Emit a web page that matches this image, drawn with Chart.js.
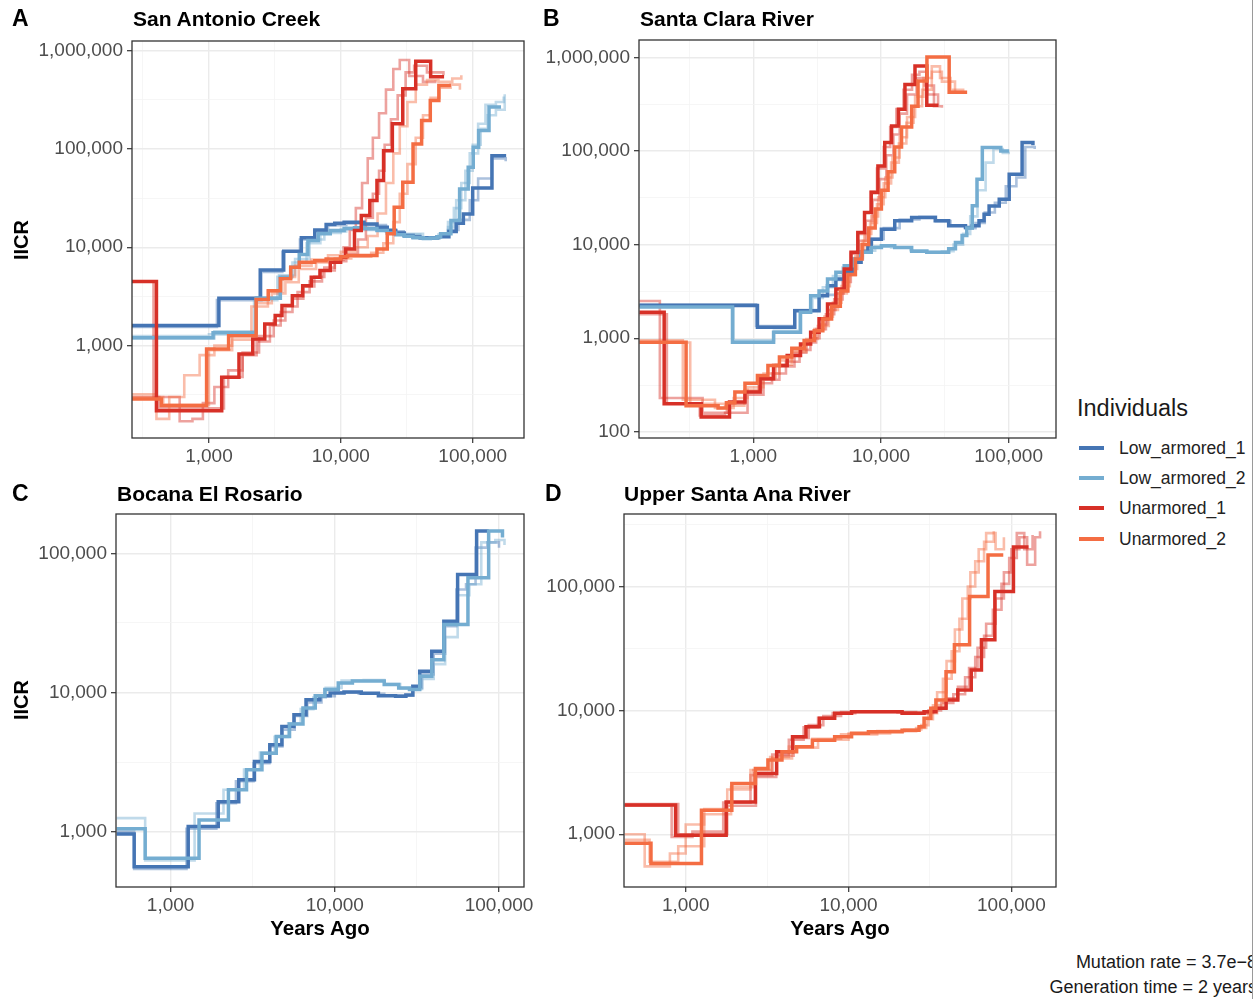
<!DOCTYPE html>
<html><head><meta charset="utf-8">
<script src="https://cdn.jsdelivr.net/npm/chart.js@4.4.1/dist/chart.umd.min.js"></script>
<style>
body{margin:0;background:#fff;width:1260px;height:999px;overflow:hidden;position:relative;font-family:"Liberation Sans",Arial,sans-serif;}
canvas{position:absolute;}
.t{position:absolute;white-space:nowrap;line-height:1;color:#000;}
.b{font-weight:bold;}
.rot{transform:translate(-50%,-50%) rotate(-90deg);}
.ctr{transform:translate(-50%,-50%);}
.key{position:absolute;height:4px;width:25px;left:1079px;}
.lab{position:absolute;left:1119px;font-size:17.5px;line-height:1;color:#222;white-space:nowrap;}
</style></head><body>
<canvas id="cA" width="540" height="480" style="left:0px;top:0px"></canvas>
<canvas id="cB" width="540" height="480" style="left:530px;top:0px"></canvas>
<canvas id="cC" width="540" height="460" style="left:0px;top:470px"></canvas>
<canvas id="cD" width="540" height="460" style="left:530px;top:470px"></canvas>

<div class="t b" style="left:12px;top:7px;font-size:23px">A</div>
<div class="t b" style="left:133px;top:8px;font-size:21px">San Antonio Creek</div>
<div class="t b" style="left:543px;top:7px;font-size:23px">B</div>
<div class="t b" style="left:640px;top:8px;font-size:21px">Santa Clara River</div>
<div class="t b" style="left:12px;top:482px;font-size:23px">C</div>
<div class="t b" style="left:117px;top:483px;font-size:21px">Bocana El Rosario</div>
<div class="t b" style="left:545px;top:482px;font-size:23px">D</div>
<div class="t b" style="left:624px;top:483px;font-size:21px">Upper Santa Ana River</div>
<div class="t b rot" style="left:21px;top:240px;font-size:20px">IICR</div>
<div class="t b rot" style="left:21px;top:700px;font-size:20px">IICR</div>
<div class="t b ctr" style="left:320px;top:928px;font-size:20.5px">Years Ago</div>
<div class="t b ctr" style="left:840px;top:928px;font-size:20.5px">Years Ago</div>

<div class="t" style="left:1077px;top:397px;font-size:23.5px;color:#1a1a1a">Individuals</div>
<div id="legend"></div>

<div style="position:absolute;left:900px;top:950px;width:352px;height:49px;overflow:hidden;">
  <div style="position:absolute;right:-5px;top:0;text-align:right;font-size:18px;line-height:25px;white-space:nowrap;color:#1a1a1a">Mutation rate = 3.7e&minus;8<br>Generation time = 2 years</div>
</div>
<div style="position:absolute;left:1252px;top:0;width:1px;height:999px;background:#9a9a9a"></div>

<script>
// ---------- categories / colours ----------
const INDIVIDUALS = ["Low_armored_1","Low_armored_2","Unarmored_1","Unarmored_2"];
const COLORS = ["#4575B4","#74ADD1","#D73027","#F46D43"];
const MAJOR_TICKS = [100, 1000, 10000, 100000, 1000000];
const MINOR_TICKS = [316.23, 3162.3, 31623, 316228];

// ---------- Panel A : San Antonio Creek  [years, IICR] ----------
const A_LA1 = [[261,1600],[1190,3030],[2450,5880],[3690,9100],[5020,12500],[6350,15000],[7740,17000],[9000,17500],[10600,18000],[12700,18000],[15000,17200],[18800,16000],[22500,14800],[26100,14000],[30300,13200],[35300,12700],[39800,12500],[44900,12500],[53800,12800],[66000,14500],[75000,17500],[85000,21800],[100000,40000],[140000,85000],[174000,82000]];
const A_LA2 = [[261,1200],[1075,1350],[2280,3030],[3480,4950],[4170,6270],[4840,8420],[5630,11700],[6740,13700],[8320,14800],[10600,15500],[12700,15800],[15000,15500],[18800,14800],[22500,14000],[26100,13400],[30300,12900],[35300,12500],[42300,12300],[47700,12400],[53800,12800],[57100,13700],[68400,18700],[79600,39200],[92500,65000],[101000,104000],[111000,154000],[133000,266000],[164000,266000]];
const A_U1 = [[261,4480],[400,218],[1250,476],[1690,822],[2150,1170],[2650,1660],[3180,2020],[3580,2550],[4290,3220],[5140,4070],[5970,4950],[6950,5790],[8320,7030],[9970,7910],[10900,9620],[12700,14800],[14300,21000],[16600,29800],[18800,47700],[21100,96000],[24600,180000],[29500,408000],[37000,780000],[48000,540000],[60700,540000]];
const A_U2 = [[261,287],[436,246],[960,925],[1410,1260],[2280,2940],[2820,3620],[3480,4770],[4170,6260],[4840,7030],[6350,7310],[7740,7600],[9970,8000],[11250,8220],[18800,9620],[22500,13700],[25400,25500],[29500,45800],[35300,112000],[41000,194000],[47700,310000],[55400,441000],[68400,441000]];
const A_LA1_b = [[261,1550],[1150,2900],[2500,5600],[3600,9000],[4900,12000],[6300,14500],[8000,16800],[11000,17500],[15000,16800],[22000,14500],[30000,13000],[40000,12300],[55000,12800],[65000,15000],[78000,19000],[95000,30000],[110000,50000],[140000,80000],[178000,75000]];
const A_LA2_b1 = [[261,1250],[1000,1300],[2200,2900],[3300,5000],[4300,7000],[5500,11000],[7000,14000],[10000,15300],[15000,15000],[25000,13500],[40000,12400],[55000,13500],[65000,18000],[75000,30000],[88000,60000],[100000,110000],[115000,160000],[130000,220000],[150000,250000],[175000,360000]];
const A_LA2_b2 = [[261,1180],[1100,1400],[2300,3100],[3400,5200],[4500,7600],[5800,12000],[7500,14500],[11000,15800],[16000,15200],[26000,13700],[42000,12200],[56000,13000],[65000,16000],[72000,25000],[82000,45000],[95000,90000],[110000,180000],[125000,280000],[150000,300000],[172000,340000]];
const A_U1_b1 = [[261,4480],[380,300],[600,170],[750,180],[900,260],[1100,380],[1400,560],[1800,800],[2300,1100],[2900,1600],[3500,2200],[4300,3000],[5200,4000],[6300,5000],[7500,6200],[9000,7500],[10500,10000],[11700,15000],[13000,25000],[14500,45000],[16000,80000],[17500,130000],[19500,230000],[22000,400000],[25000,650000],[28000,800000],[33000,550000],[42000,480000],[52000,500000]];
const A_U1_b2 = [[261,300],[420,230],[1300,480],[1800,850],[2400,1250],[3100,1800],[3800,2500],[4700,3500],[5800,4500],[7200,5800],[9000,7200],[11000,8500],[13500,12000],[15500,20000],[17500,35000],[19500,60000],[21500,110000],[24000,200000],[27000,350000],[31000,600000],[36000,700000],[45000,600000],[60000,560000]];
const A_U2_b1 = [[261,320],[400,180],[500,300],[650,500],[850,800],[1100,1000],[1500,1300],[2100,2500],[2800,3600],[3600,5000],[4500,6500],[6000,7500],[8000,8300],[10000,9000],[13000,10000],[16000,13000],[19000,22000],[22000,45000],[25000,90000],[28000,170000],[32000,300000],[37000,450000],[45000,500000],[55000,480000],[70000,520000],[82000,560000]];
const A_U2_b2 = [[261,300],[450,250],[1000,900],[1500,1150],[2300,2700],[3000,3400],[3800,4400],[4800,6000],[6500,7000],[9000,7700],[12000,8000],[17000,8800],[21000,11000],[25000,18000],[28000,35000],[32000,70000],[37000,130000],[42000,220000],[48000,330000],[56000,420000],[68000,450000],[80000,400000]];

// ---------- Panel B : Santa Clara River ----------
const B_LA1 = [[128,2230],[1076,1310],[2110,1970],[3270,2850],[3810,3640],[4430,4290],[5150,5050],[6000,6460],[6980,8260],[7890,9720],[8380,11400],[10070,14600],[12810,18000],[17380,19500],[20840,19500],[26600,18000],[33900,15900],[45900,15200],[51900,15900],[58600,18000],[64200,21100],[70300,25900],[84400,30500],[101000,56400],[127500,123000],[155000,115000]];
const B_LA2 = [[128,2150],[686,906],[1440,1160],[2340,1890],[2810,2850],[3270,3200],[3810,4290],[4430,5050],[5150,5950],[6000,7000],[6980,8260],[8380,9300],[10070,9720],[12810,9300],[17380,8500],[22840,8260],[28000,8260],[33900,9000],[38300,10500],[43200,12500],[47000,15000],[51900,26000],[56500,50000],[62200,109000],[86800,100000],[101000,100000]];
const B_U1 = [[128,1890],[200,200],[390,144],[650,208],[859,266],[1130,369],[1440,512],[1840,653],[2340,870],[2810,1160],[3270,1610],[3810,2320],[4430,3360],[5150,5480],[5820,8260],[6580,13500],[7430,22000],[8380,36000],[9460,69000],[10700,123000],[12100,185000],[13700,278000],[15400,513000],[18460,805000],[22840,307000],[28200,307000]];
const B_U2 = [[128,906],[297,190],[529,180],[615,205],[716,266],[859,330],[1076,400],[1300,512],[1600,630],[2000,780],[2500,944],[3000,1200],[3500,1600],[4100,2200],[4800,3200],[5500,4800],[6300,7000],[7100,10000],[8000,15000],[9000,24000],[10070,38000],[11360,60000],[12810,110000],[14480,180000],[17380,300000],[19500,560000],[22900,1010000],[34200,423000],[47300,423000]];
const B_LA1_b = [[128,2300],[1050,1350],[2100,2000],[3300,2900],[4400,4200],[5200,5300],[6200,7000],[7200,8700],[8500,11500],[10500,15000],[14000,18500],[20000,19800],[27000,17800],[35000,16000],[46000,15000],[55000,17000],[65000,22000],[78000,28000],[95000,42000],[115000,52000],[135000,110000],[160000,105000]];
const B_LA2_b = [[128,2250],[700,950],[1450,1200],[2300,1950],[2900,2700],[3500,3500],[4200,4600],[5000,5700],[6000,7200],[7200,8600],[9000,9500],[12000,9300],[17000,8700],[23000,8300],[30000,8500],[37000,10000],[44000,13000],[50000,20000],[57000,38000],[66000,75000],[76000,105000],[90000,95000],[100000,92000]];
const B_U1_b1 = [[128,2500],[185,230],[400,160],[620,200],[860,270],[1100,330],[1400,420],[1800,560],[2300,750],[2800,1000],[3300,1400],[3800,2000],[4400,3000],[5100,5000],[5800,8000],[6600,13000],[7400,22000],[8300,37000],[9300,65000],[10500,110000],[11800,180000],[13200,280000],[15000,450000],[17500,650000],[20000,700000],[23000,400000],[28000,310000]];
const B_U1_b2 = [[128,1800],[210,200],[380,150],[600,160],[900,250],[1200,360],[1600,500],[2100,700],[2600,900],[3100,1250],[3700,1800],[4300,2600],[5000,4000],[5800,6500],[6700,11000],[7600,18000],[8600,30000],[9700,50000],[11000,90000],[12500,150000],[14000,250000],[16000,400000],[19000,600000],[22000,500000],[26000,300000],[30000,290000]];
const B_U2_b1 = [[128,950],[280,220],[500,180],[700,230],[900,300],[1200,420],[1600,580],[2000,750],[2500,950],[3000,1250],[3600,1700],[4200,2400],[4900,3600],[5700,5500],[6500,8500],[7400,13000],[8400,20000],[9500,32000],[10800,52000],[12300,85000],[14000,140000],[16000,230000],[18500,380000],[21500,600000],[25000,800000],[29000,600000],[35000,450000],[44000,420000]];
const B_U2_b2 = [[128,900],[320,200],[600,190],[850,280],[1150,380],[1500,520],[2000,720],[2600,980],[3200,1350],[3900,2000],[4600,3000],[5400,4700],[6300,7500],[7200,11000],[8200,17000],[9300,27000],[10500,45000],[12000,75000],[13800,120000],[15800,200000],[18000,300000],[21000,450000],[25000,700000],[30000,550000],[38000,430000]];

// ---------- Panel C : Bocana El Rosario ----------
const C_LA1 = [[469,961],[600,560],[1280,1090],[1950,1640],[2600,2360],[3240,3190],[4020,4210],[4760,5700],[5640,6920],[6680,8870],[8110,9480],[9370,9910],[11380,10100],[14490,9900],[18430,9500],[23450,9400],[27100,9600],[29860,11100],[32900,14200],[38960,19800],[46150,32600],[55980,70600],[73070,145000],[86500,145000]];
const C_LA2 = [[469,1050],[700,643],[1490,1210],[2250,2000],[2900,2780],[3600,3660],[4400,4830],[5300,5950],[6400,7730],[7600,9480],[8700,10500],[10500,11700],[12800,12100],[16000,12100],[20000,11400],[24500,10800],[28500,10500],[32900,13100],[38960,17200],[46150,30800],[64700,66800],[86500,145000],[105000,130000]];
const C_LA1_b = [[469,1000],[600,540],[1250,1050],[1900,1600],[2500,2300],[3200,3100],[4000,4100],[4800,5400],[5700,6800],[6800,8500],[8300,9400],[10000,10000],[14000,9800],[20000,9500],[26000,9500],[30000,10800],[34000,13500],[40000,19000],[47000,30000],[55000,55000],[63000,60000],[72000,110000],[85000,120000],[100000,110000]];
const C_LA2_b = [[469,1250],[700,620],[1400,1350],[2100,2000],[2800,2800],[3500,3700],[4300,4800],[5200,6000],[6200,7600],[7400,9200],[8800,10800],[11000,12200],[15000,12300],[20000,11500],[25000,10700],[30000,10600],[34000,12500],[40000,16000],[47000,25000],[56000,50000],[66000,60000],[78000,120000],[95000,125000],[108000,115000]];

// ---------- Panel D : Upper Santa Ana River ----------
const D_U1 = [[422,1720],[867,981],[1772,1820],[2680,3100],[3620,4630],[4530,6120],[5480,7370],[6630,8620],[8220,9460],[10440,9750],[13250,9750],[21330,9500],[27100,9460],[29100,9750],[34400,10400],[39700,12100],[46900,14600],[56700,21200],[65500,37100],[79200,91200],[103000,208000],[127500,208000]];
const D_U2 = [[422,847],[612,580],[1250,1560],[1920,2570],[2680,3400],[3200,3970],[3900,4630],[4800,5080],[6000,5750],[8220,6120],[10440,6540],[13250,6720],[21330,6920],[27100,7370],[29100,8620],[32000,10400],[34400,12100],[39700,20500],[44700,33800],[55400,83000],[71900,180000],[89200,180000]];
const D_U1_b1 = [[422,1700],[820,950],[1100,1050],[1700,1800],[2500,3000],[3400,4400],[4300,5800],[5300,7300],[6500,8700],[8000,9500],[11000,9800],[20000,9600],[28000,9600],[33000,10500],[40000,12500],[47000,15500],[55000,22000],[62000,32000],[70000,50000],[80000,80000],[90000,130000],[100000,200000],[112000,250000],[125000,150000],[140000,250000],[150000,280000]];
const D_U1_b2 = [[422,1750],[900,1000],[1800,1700],[2700,2900],[3600,4300],[4600,6000],[5700,7600],[7000,9000],[9000,9700],[15000,9700],[26000,9400],[31000,10000],[37000,11500],[44000,13500],[52000,18500],[60000,27000],[68000,40000],[77000,65000],[87000,105000],[97000,170000],[108000,270000],[120000,200000],[135000,260000]];
const D_U2_b1 = [[422,1000],[560,550],[800,700],[1000,1200],[1300,1600],[1800,2300],[2500,3300],[3300,4200],[4300,5100],[6000,5900],[9000,6400],[15000,6800],[22000,7000],[28000,7600],[31000,9500],[35000,14000],[40000,25000],[45000,45000],[50000,80000],[56000,130000],[63000,200000],[70000,270000],[80000,200000],[90000,250000]];
const D_U2_b2 = [[422,900],[600,600],[900,800],[1300,1450],[1900,2400],[2600,3300],[3400,4100],[4500,5000],[6500,5800],[10000,6500],[18000,6800],[26000,7200],[30000,8500],[33000,11000],[38000,18000],[43000,30000],[48000,55000],[54000,100000],[60000,160000],[68000,230000],[78000,280000]];

// ---------- axis ranges ----------
const A_X = [261, 245000], A_Y = [115, 1250000];
const B_X = [127, 235000], B_Y = [86, 1530000];
const C_X = [465, 142000], C_Y = [400, 192000];
const D_X = [418, 188000], D_Y = [375, 385000];

// ---------- layout (positions only) ----------
const PANELS = [
  {id:'cA', left:0,   top:0,   w:540, h:480, plot:[132,41,524,438], xr:A_X, yr:A_Y,
   mains:[[0,A_LA1],[1,A_LA2],[2,A_U1],[3,A_U2]],
   boots:[[0,A_LA1_b],[1,A_LA2_b1],[1,A_LA2_b2],[2,A_U1_b1],[2,A_U1_b2],[3,A_U2_b1],[3,A_U2_b2]]},
  {id:'cB', left:530, top:0,   w:540, h:480, plot:[639,40,1056,438], xr:B_X, yr:B_Y,
   mains:[[0,B_LA1],[1,B_LA2],[2,B_U1],[3,B_U2]],
   boots:[[0,B_LA1_b],[1,B_LA2_b],[2,B_U1_b1],[2,B_U1_b2],[3,B_U2_b1],[3,B_U2_b2]]},
  {id:'cC', left:0,   top:470, w:540, h:460, plot:[116,514,524,887], xr:C_X, yr:C_Y,
   mains:[[0,C_LA1],[1,C_LA2]],
   boots:[[0,C_LA1_b],[1,C_LA2_b]]},
  {id:'cD', left:530, top:470, w:540, h:460, plot:[624,514,1056,887], xr:D_X, yr:D_Y,
   mains:[[2,D_U1],[3,D_U2]],
   boots:[[2,D_U1_b1],[2,D_U1_b2],[3,D_U2_b1],[3,D_U2_b2]]}
];

const FONT = '"Liberation Sans", Arial, sans-serif';
function rgba(hex, a){ const n=parseInt(hex.slice(1),16); return `rgba(${n>>16&255},${n>>8&255},${n&255},${a})`; }
function toXY(arr){ return arr.map(p => ({x:p[0], y:p[1]})); }

const framePlugin = { id:'frame', afterDatasetsDraw(chart){
  const {ctx, chartArea:a} = chart; ctx.save(); ctx.strokeStyle='#333333'; ctx.lineWidth=1.3;
  ctx.strokeRect(a.left, a.top, a.right-a.left, a.bottom-a.top); ctx.restore(); } };

function logAxis(range, pos, size){
  const [mn, mx] = range;
  return {
    type:'logarithmic', position:pos, min:mn, max:mx, bounds:'data',
    afterBuildTicks(s){
      const t = [];
      MAJOR_TICKS.forEach(v => { if (v>=mn && v<=mx) t.push({value:v, mj:true}); });
      MINOR_TICKS.forEach(v => { if (v>=mn && v<=mx) t.push({value:v, mj:false}); });
      t.sort((a,b)=>a.value-b.value);
      s.ticks = t;
    },
    afterFit(s){
      if (pos==='left') s.width = size; else s.height = size;
      s.paddingLeft = 0; s.paddingRight = 0; s.paddingTop = 0; s.paddingBottom = 0;
    },
    ticks:{ autoSkip:false, maxRotation:0, minRotation:0, color:'#4d4d4d', padding: pos==='left'?4:2,
      font:{family:FONT, size:19},
      callback(v, i, ticks){ return ticks[i] && ticks[i].mj ? Number(v).toLocaleString('en-US') : ''; } },
    grid:{ color: c => (c.tick && c.tick.mj) ? '#ebebeb' : '#f4f4f4',
      lineWidth: c => (c.tick && c.tick.mj) ? 1.4 : 0.8,
      tickColor: c => (c.tick && c.tick.mj) ? '#333333' : 'rgba(0,0,0,0)',
      tickLength:5, tickWidth:1.2, drawTicks:true },
    border:{ display:false }
  };
}

PANELS.forEach(p => {
  const datasets = [];
  p.boots.forEach(([ind, arr]) => datasets.push({
    label: INDIVIDUALS[ind]+' bootstrap', data: toXY(arr), borderColor: rgba(COLORS[ind], 0.45),
    borderWidth: 2.6, pointRadius:0, stepped:true, fill:false, order: 20 + (3-ind)
  }));
  p.mains.forEach(([ind, arr]) => datasets.push({
    label: INDIVIDUALS[ind], data: toXY(arr), borderColor: COLORS[ind],
    borderWidth: 3.5, pointRadius:0, stepped:true, fill:false, order: 3-ind
  }));
  const W = p.plot[0] - p.left;
  const H = (p.top + p.h) - p.plot[3];
  new Chart(document.getElementById(p.id), {
    type:'line',
    data:{ datasets },
    options:{
      responsive:false, animation:false, devicePixelRatio:1, events:[],
      layout:{ padding:{ left:0, top:p.plot[1]-p.top, right:(p.left+p.w)-p.plot[2], bottom:0 } },
      plugins:{ legend:{display:false}, tooltip:{enabled:false}, title:{display:false} },
      elements:{ line:{ borderJoinStyle:'miter', borderCapStyle:'butt', tension:0 } },
      scales:{ x: logAxis(p.xr, 'bottom', H), y: logAxis(p.yr, 'left', W) }
    },
    plugins:[framePlugin]
  });
});

// legend (HTML)
const LEG_Y = [448, 478, 508, 539];
const lg = document.getElementById('legend');
INDIVIDUALS.forEach((name, i) => {
  const k = document.createElement('div'); k.className='key';
  k.style.top = (LEG_Y[i]-2)+'px'; k.style.background = COLORS[i]; lg.appendChild(k);
  const l = document.createElement('div'); l.className='lab';
  l.style.top = (LEG_Y[i]-8.5)+'px'; l.textContent = name; lg.appendChild(l);
});
</script>
</body></html>
